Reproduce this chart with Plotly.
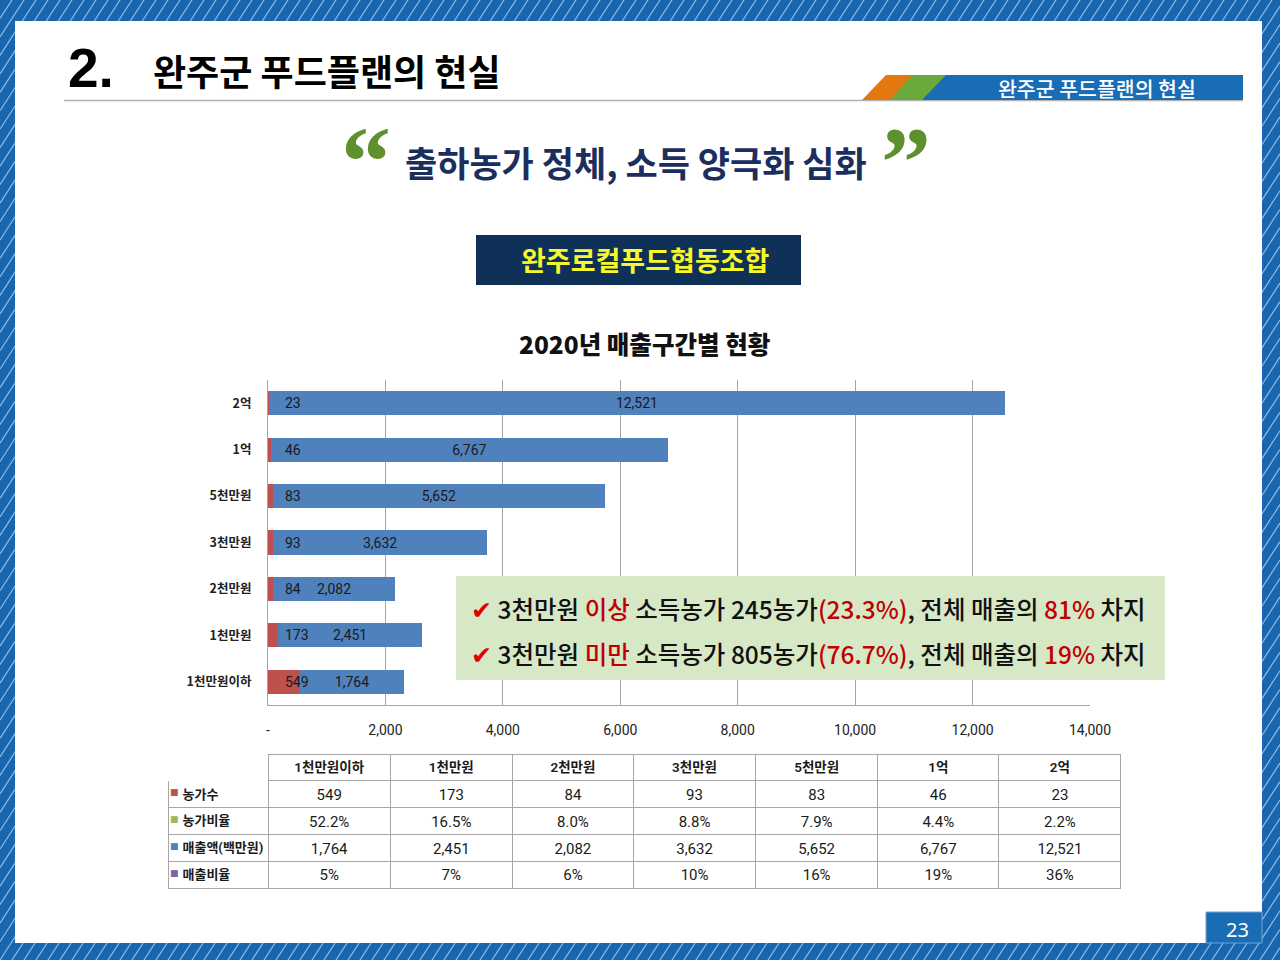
import plotly.graph_objects as go

W, H = 1280, 960

# ---------------- data ----------------
categories = ['1천만원이하', '1천만원', '2천만원', '3천만원', '5천만원', '1억', '2억']
farms = [549, 173, 84, 93, 83, 46, 23]
farm_ratio = [52.2, 16.5, 8.0, 8.8, 7.9, 4.4, 2.2]
sales = [1764, 2451, 2082, 3632, 5652, 6767, 12521]
sales_ratio = [5, 7, 6, 10, 16, 19, 36]
x_tickvals = [0, 2000, 4000, 6000, 8000, 10000, 12000, 14000]
x_ticktext = ['-', '2,000', '4,000', '6,000', '8,000', '10,000', '12,000', '14,000']
row_labels = ['농가수', '농가비율', '매출액(백만원)', '매출비율']
row_colors = ['#c0504d', '#9bbb59', '#4f81bd', '#8064a2']

# ---------------- styles ----------------
BLUE_BORDER = '#1866b0'
RED = '#c0504d'
BLUE = '#4f81bd'
GRID = '#a6a6a6'
KR = 'Noto Sans CJK KR, Noto Sans, sans-serif'
NARROW = 'Roboto, Noto Sans CJK KR, sans-serif'


def fx(p):
    return p / W


def fy(p):
    return 1 - p / H


fig = go.Figure()

# stacked horizontal bars
fig.add_trace(go.Bar(
    y=categories, x=farms, orientation='h', name='농가수',
    marker=dict(color=RED, line=dict(width=0)),
    hoverinfo='skip',
))
fig.add_trace(go.Bar(
    y=categories, x=sales, orientation='h', name='매출액',
    marker=dict(color=BLUE, line=dict(width=0)),
    text=sales, texttemplate='%{x:,.0f}', textposition='inside',
    insidetextanchor='middle', constraintext='none',
    textfont=dict(family=NARROW, size=14, color='#1a1a1a'),
    hoverinfo='skip',
))

# table
tbl_header = [''] + categories
tbl_cols = [['\u00a0\u00a0' + t for t in row_labels]]
for i in range(len(categories)):
    tbl_cols.append([
        f'{farms[i]}',
        f'{farm_ratio[i]:.1f}%',
        f'{sales[i]:,}',
        f'{sales_ratio[i]}%',
    ])

TBL_TOP = 754
ROW_H = 26.8
fig.add_trace(go.Table(
    domain=dict(x=[fx(168), fx(1121)], y=[fy(900), fy(TBL_TOP)]),
    columnwidth=[100, 122, 122, 121, 122, 122, 121, 122],
    header=dict(
        values=tbl_header, height=ROW_H,
        fill_color='white',
        line=dict(color=GRID, width=[0, 1, 1, 1, 1, 1, 1, 1]),
        align='center',
        font=dict(family=NARROW, size=13.5, color='#1a1a1a', weight=600),
    ),
    cells=dict(
        values=tbl_cols, height=ROW_H,
        fill_color='white',
        line=dict(color=GRID, width=1),
        align=['left'] + ['center'] * 7,
        font=dict(family=NARROW, size=[13, 15, 15, 15, 15, 15, 15, 15], color='#1a1a1a',
                  weight=[700, 400, 400, 400, 400, 400, 400, 400]),
    ),
))

# count labels at the start of each bar
annotations = []
for c, v in zip(categories, farms):
    annotations.append(dict(
        x=0, y=c, xref='x', yref='y', text=f'{v}', showarrow=False,
        xanchor='left', xshift=15, font=dict(family=NARROW, size=14, color='#1a1a1a'),
    ))

# legend squares in the table's row-label column
for i, col in enumerate(row_colors):
    yc = TBL_TOP + ROW_H * (i + 1.5)
    annotations.append(dict(x=fx(180), y=fy(yc - 2), xref='paper', yref='paper', text='■', showarrow=False,
                            xanchor='right', yanchor='middle', borderpad=0,
                            font=dict(family='DejaVu Sans', size=9, color=col)))

# ---------------- page decoration ----------------
shapes = []
segs = []
SL = 0.65  # horizontal run per vertical pixel of the frame stripes
for k in range(-90, 110):
    x0 = k * 12
    y_lo = max(0.0, H - (W - x0) / SL)
    y_hi = min(float(H), H + x0 / SL)
    if y_lo >= y_hi:
        continue
    xa = x0 + SL * (H - y_hi)
    xb = x0 + SL * (H - y_lo)
    segs.append(f'M {fx(xa):.5f},{fy(y_hi):.5f} L {fx(xb):.5f},{fy(y_lo):.5f}')
shapes.append(dict(type='path', xref='paper', yref='paper', path=' '.join(segs),
                   line=dict(color='rgba(255,255,255,0.55)', width=1.2), layer='below'))
shapes.append(dict(type='rect', xref='paper', yref='paper', x0=fx(15), x1=fx(1262), y0=fy(943), y1=fy(21),
                   fillcolor='white', line=dict(width=0), layer='below'))
shapes.append(dict(type='line', xref='paper', yref='paper', x0=fx(64), x1=fx(1243), y0=fy(100.5), y1=fy(100.5),
                   line=dict(color='#b4b4b4', width=1.5), layer='below'))


def para(x_bl, x_br, x_tl, x_tr, color):
    p = (f'M {fx(x_bl)},{fy(100)} L {fx(x_br)},{fy(100)} L {fx(x_tr)},{fy(75)} '
         f'L {fx(x_tl)},{fy(75)} Z')
    return dict(type='path', xref='paper', yref='paper', path=p, fillcolor=color,
                line=dict(width=0), layer='below')


shapes.append(para(862, 892, 886, 914, '#e3780f'))
shapes.append(para(890, 924, 912, 948, '#6aaa3c'))
shapes.append(para(922, 1243, 946, 1243, '#1a6db5'))
shapes.append(dict(type='rect', xref='paper', yref='paper', x0=fx(476), x1=fx(801), y0=fy(285), y1=fy(235),
                   fillcolor='#0f3157', line=dict(width=0), layer='below'))
shapes.append(dict(type='rect', xref='paper', yref='paper', x0=fx(456), x1=fx(1165), y0=fy(680), y1=fy(576),
                   fillcolor='#d7e8c7', line=dict(width=0), layer='above'))
shapes.append(dict(type='rect', xref='paper', yref='paper', x0=fx(1206), x1=fx(1262), y0=fy(943), y1=fy(912),
                   fillcolor='#1a6db5', line=dict(color='#6fa3d6', width=1), layer='below'))


def ann(x, y, text, size, color='#000', family=KR, weight=400, xanchor='center', yanchor='middle'):
    annotations.append(dict(x=fx(x), y=fy(y), xref='paper', yref='paper', text=text, showarrow=False,
                            xanchor=xanchor, yanchor=yanchor,
                            font=dict(family=family, size=size, color=color, weight=weight)))


ann(66, 68, '2.', 55, '#000', 'Liberation Sans, Arial, sans-serif', 700, xanchor='left')
ann(151, 70, '완주군 푸드플랜의 현실', 36, '#000', KR, 700, xanchor='left')
ann(1097, 88, '완주군 푸드플랜의 현실', 20.5, '#ffffff', KR, 500)
ann(366, 161, '“', 100, '#5f902e', 'Liberation Serif, serif', 700)
ann(906, 161, '”', 100, '#5f902e', 'Liberation Serif, serif', 700)
ann(636, 161, '출하농가 정체, 소득 양극화 심화', 35, '#1b2f5e', KR, 700)
ann(645, 259, '완주로컬푸드협동조합', 27, '#f7f72a', KR, 700)
ann(644, 343, '2020년 매출구간별 현황', 24.5, '#111', KR, 900)
ann(1237, 929, '23', 20, '#ffffff', 'Noto Sans, sans-serif', 400)

R = '#c00000'
line1 = (f'<span style="color:#e00000">✔</span> 3천만원 <span style="color:{R}">이상</span> 소득농가 245농가'
         f'<span style="color:{R}">(23.3%)</span>, 전체 매출의 <span style="color:{R}">81%</span> 차지')
line2 = (f'<span style="color:#e00000">✔</span> 3천만원 <span style="color:{R}">미만</span> 소득농가 805농가'
         f'<span style="color:{R}">(76.7%)</span>, 전체 매출의 <span style="color:{R}">19%</span> 차지')
ann(469, 608, line1, 24.5, '#111', KR, 500, xanchor='left')
ann(469, 653, line2, 24.5, '#111', KR, 500, xanchor='left')

fig.update_layout(
    template='none',
    width=W, height=H, autosize=False,
    margin=dict(l=0, r=0, t=0, b=0, pad=0, autoexpand=False),
    paper_bgcolor=BLUE_BORDER,
    plot_bgcolor='rgba(0,0,0,0)',
    font=dict(family=KR, color='#222'),
    barmode='stack', bargap=0.48,
    showlegend=False,
    shapes=shapes,
    annotations=annotations,
    xaxis=dict(
        domain=[fx(268), fx(1090)], range=[0, 14000], automargin=False,
        tickvals=x_tickvals, ticktext=x_ticktext,
        showgrid=True, gridcolor=GRID, gridwidth=1,
        showline=True, linecolor=GRID, linewidth=1,
        zeroline=False, ticks='', ticklabelstandoff=12,
        tickfont=dict(family=NARROW, size=14, color='#222'),
        fixedrange=True,
    ),
    yaxis=dict(
        domain=[fy(705), fy(380)], automargin=False,
        categoryorder='array', categoryarray=categories,
        showgrid=False, showline=True, linecolor=GRID, linewidth=1,
        zeroline=False, ticks='', ticklabelstandoff=13,
        tickfont=dict(family=KR, size=12.5, color='#222', weight=700),
        fixedrange=True,
    ),
)

fig.write_html('out.html', config={'displayModeBar': False, 'responsive': False},
               post_script="document.body.style.margin='0';document.body.style.overflow='hidden';")
